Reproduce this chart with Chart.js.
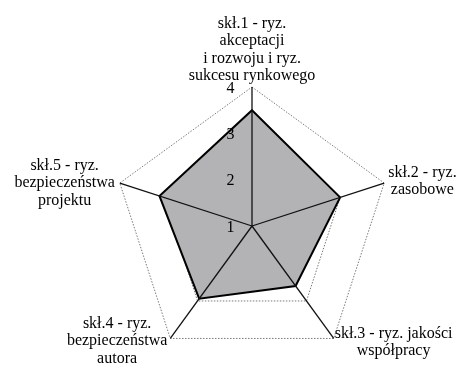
<!DOCTYPE html>
<html><head><meta charset="utf-8">
<script src="https://cdn.jsdelivr.net/npm/chart.js@4/dist/chart.umd.min.js"></script>
<style>html,body{margin:0;padding:0;background:#fff}#wrap{width:461px;height:365px;position:relative}</style>
</head><body><div id="wrap"><canvas id="c"></canvas></div>
<script>
const categories = [
  ['skł.1 - ryz.', 'akceptacji', 'i rozwoju i ryz.', 'sukcesu rynkowego'],
  ['skł.2 - ryz.', 'zasobowe'],
  ['skł.3 - ryz. jakości', 'współpracy'],
  ['skł.4 - ryz.', 'bezpieczeństwa', 'autora'],
  ['skł.5 - ryz.', 'bezpieczeństwa', 'projektu']
];
const values = [3.5, 3.0, 2.6, 2.94, 3.1];
const tickValues = [1, 2, 3, 4];
const tickLabels = ['1', '2', '3', '4'];

const FONT = '16px "Liberation Serif", "Times New Roman", serif';
const LINE_H = 17.3;
// label block placement relative to each outer vertex: horizontal anchor, gap, first baseline offset
const labelPlace = [
  {h: 'center', gap: 0, v: -58.9},
  {h: 'left', gap: 4, v: -6.3},
  {h: 'left', gap: 1, v: -0.5},
  {h: 'right', gap: 3, v: -10.5},
  {h: 'right', gap: 5, v: -13}
];

const overlay = {
  id: 'overlay',
  afterDatasetsDraw(chart) {
    const s = chart.scales.r;
    const ctx = chart.ctx;
    ctx.save();
    ctx.strokeStyle = '#111';
    ctx.lineWidth = 1.3;
    for (let i = 0; i < categories.length; i++) {
      const p = s.getPointPosition(i, s.drawingArea);
      ctx.beginPath();
      ctx.moveTo(s.xCenter, s.yCenter);
      ctx.lineTo(p.x, p.y);
      ctx.stroke();
    }
    ctx.fillStyle = '#000';
    ctx.font = FONT;
    ctx.textAlign = 'center';
    ctx.textBaseline = 'alphabetic';
    s.ticks.forEach((t, idx) => {
      const d = s.getDistanceFromCenterForValue(t.value);
      const lbl = tickLabels[tickValues.indexOf(t.value)] ?? String(t.value);
      ctx.fillText(lbl, s.xCenter - 21.5, s.yCenter - d + 5.5);
    });
    for (let i = 0; i < categories.length; i++) {
      const p = s.getPointPosition(i, s.drawingArea);
      const lines = categories[i];
      const w = Math.max(...lines.map(l => ctx.measureText(l).width));
      const pl = labelPlace[i];
      let cx = p.x;
      if (pl.h === 'left') cx = p.x + pl.gap + w / 2;
      else if (pl.h === 'right') cx = p.x - pl.gap - w / 2;
      lines.forEach((l, k) => ctx.fillText(l, cx, p.y + pl.v + k * LINE_H));
    }
    ctx.restore();
  }
};

new Chart(document.getElementById('c'), {
  type: 'radar',
  data: {
    labels: categories,
    datasets: [{
      data: values,
      backgroundColor: '#b3b3b5',
      borderColor: '#000',
      borderWidth: 2,
      pointRadius: 0,
      fill: true,
      tension: 0
    }]
  },
  options: {
    responsive: true,
    maintainAspectRatio: false,
    animation: false,
    layout: {padding: {left: 113, right: 70, top: 87, bottom: 0}},
    plugins: {legend: {display: false}, tooltip: {enabled: false}},
    scales: {
      r: {
        min: tickValues[0],
        max: tickValues[tickValues.length - 1],
        ticks: {display: false, stepSize: 1},
        pointLabels: {display: false},
        angleLines: {display: false},
        grid: {color: '#7a7a7a', lineWidth: 1},
        border: {dash: [1.5, 1.5]}
      }
    }
  },
  plugins: [overlay]
});
</script>
</body></html>
